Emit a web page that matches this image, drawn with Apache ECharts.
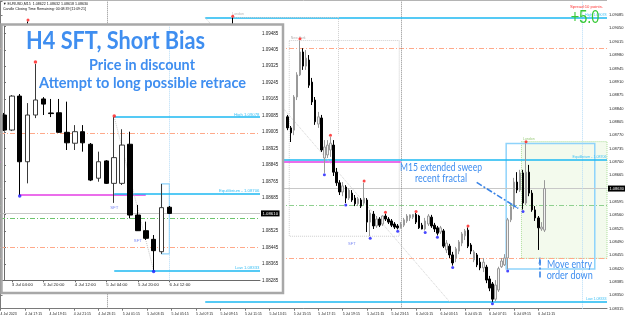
<!DOCTYPE html>
<html><head><meta charset="utf-8">
<script src="https://cdn.jsdelivr.net/npm/echarts@6/dist/echarts.min.js"></script>
<style>html,body{margin:0;padding:0;background:#fff;overflow:hidden}#c{width:625px;height:319px}</style>
</head><body><div id="c"></div>
<script>
// ================= DATA =================
// M15 chart (EURUSD,M15). Index = M15 bar number counted from 4 Jul 2023 15:15
const m15TickLabels = ['4 Jul 2023','4 Jul 17:15','4 Jul 19:15','4 Jul 21:15','4 Jul 23:15','5 Jul 01:15','5 Jul 03:15','5 Jul 05:15','5 Jul 07:15','5 Jul 09:15','5 Jul 11:15','5 Jul 13:15','5 Jul 15:15','5 Jul 17:15','5 Jul 19:15','5 Jul 21:15','5 Jul 23:15','6 Jul 01:15','6 Jul 03:15','6 Jul 05:15','6 Jul 07:15','6 Jul 09:15','6 Jul 11:15'];
const m15BarCount = 199;
const m15Index = [9,76,94,95,96,97,98,99,100,101,102,103,104,105,106,107,108,109,110,111,112,113,114,115,116,117,118,119,120,121,122,123,124,125,126,127,128,129,130,131,132,133,134,135,136,137,138,139,140,141,142,143,144,145,146,147,148,149,150,151,152,153,154,155,156,157,158,159,160,161,162,163,164,165,166,167,168,169,170,171,172,173,174,175,176,177,178];
const m15Open = [1.09030,1.09040,1.08818,1.08789,1.08783,1.08870,1.08928,1.08988,1.08951,1.08967,1.08909,1.08862,1.08799,1.08815,1.08710,1.08718,1.08731,1.08744,1.08673,1.08645,1.08621,1.08634,1.08605,1.08618,1.08605,1.08590,1.08600,1.08592,1.08600,1.08542,1.08563,1.08532,1.08550,1.08537,1.08558,1.08550,1.08545,1.08537,1.08532,1.08527,1.08534,1.08545,1.08553,1.08555,1.08562,1.08558,1.08534,1.08524,1.08537,1.08555,1.08534,1.08527,1.08516,1.08519,1.08469,1.08479,1.08456,1.08448,1.08466,1.08487,1.08506,1.08521,1.08482,1.08443,1.08456,1.08437,1.08422,1.08424,1.08393,1.08380,1.08340,1.08364,1.08425,1.08430,1.08448,1.08548,1.08582,1.08647,1.08626,1.08671,1.08592,1.08673,1.08618,1.08574,1.08553,1.08524,1.08521];
const m15High = [1.09068,1.09078,1.08823,1.08794,1.08875,1.08935,1.09018,1.08998,1.08993,1.08980,1.08920,1.08870,1.08831,1.08823,1.08757,1.08757,1.08765,1.08757,1.08684,1.08652,1.08647,1.08639,1.08631,1.08626,1.08613,1.08608,1.08605,1.08645,1.08605,1.08574,1.08571,1.08558,1.08555,1.08560,1.08564,1.08555,1.08550,1.08542,1.08537,1.08542,1.08553,1.08563,1.08562,1.08563,1.08566,1.08561,1.08540,1.08553,1.08563,1.08561,1.08540,1.08532,1.08532,1.08524,1.08495,1.08485,1.08464,1.08477,1.08495,1.08516,1.08524,1.08528,1.08487,1.08469,1.08461,1.08448,1.08448,1.08430,1.08401,1.08385,1.08390,1.08425,1.08448,1.08458,1.08553,1.08592,1.08658,1.08673,1.08679,1.08679,1.08748,1.08692,1.08626,1.08584,1.08558,1.08542,1.08652];
const m15Low = [1.08990,1.09000,1.08783,1.08752,1.08770,1.08862,1.08925,1.08941,1.08941,1.08894,1.08849,1.08797,1.08789,1.08726,1.08671,1.08710,1.08713,1.08663,1.08637,1.08613,1.08610,1.08592,1.08600,1.08595,1.08584,1.08584,1.08579,1.08587,1.08516,1.08505,1.08524,1.08527,1.08529,1.08532,1.08545,1.08537,1.08529,1.08524,1.08523,1.08525,1.08529,1.08540,1.08545,1.08550,1.08537,1.08524,1.08523,1.08520,1.08532,1.08527,1.08516,1.08507,1.08511,1.08474,1.08461,1.08448,1.08428,1.08437,1.08458,1.08479,1.08495,1.08474,1.08458,1.08437,1.08424,1.08416,1.08411,1.08382,1.08361,1.08333,1.08335,1.08359,1.08422,1.08427,1.08419,1.08542,1.08576,1.08618,1.08621,1.08575,1.08587,1.08610,1.08569,1.08545,1.08469,1.08519,1.08516];
const m15Close = [1.09000,1.09020,1.08789,1.08776,1.08870,1.08928,1.08988,1.08951,1.08972,1.08901,1.08857,1.08805,1.08818,1.08731,1.08739,1.08744,1.08749,1.08673,1.08645,1.08621,1.08637,1.08605,1.08626,1.08600,1.08590,1.08603,1.08584,1.08605,1.08542,1.08566,1.08532,1.08550,1.08534,1.08558,1.08550,1.08542,1.08534,1.08529,1.08527,1.08537,1.08548,1.08558,1.08561,1.08562,1.08542,1.08527,1.08524,1.08545,1.08558,1.08532,1.08524,1.08513,1.08527,1.08479,1.08487,1.08456,1.08435,1.08472,1.08490,1.08511,1.08519,1.08479,1.08466,1.08464,1.08430,1.08422,1.08437,1.08390,1.08369,1.08340,1.08377,1.08420,1.08440,1.08448,1.08548,1.08582,1.08647,1.08626,1.08671,1.08592,1.08673,1.08618,1.08574,1.08553,1.08527,1.08529,1.08630];
const m15FractalHighIdx = [9,76,98,108,119,126,136,153,172];
const m15FractalHighVal = [1.09072,1.09082,1.09023,1.08770,1.08650,1.08568,1.08570,1.08532,1.08753];
const m15FractalLowIdx = [106,113,121,130,139,143,148,161,166,171];
const m15FractalLowVal = [1.08666,1.08587,1.08500,1.08518,1.08515,1.08502,1.08423,1.08328,1.08414,1.08570];
const m15SftIdx = [115];
const m15SftVal = [1.08485];

// H4 inset chart. Index = H4 bar number counted from 3 Jul 2023 00:00
const h4TickLabels = ['3 Jul 04:00','3 Jul 20:00','4 Jul 12:00','5 Jul 04:00','5 Jul 20:00','6 Jul 12:00'];
const h4BarCount = 33;
const h4Open  = [1.09088,1.09015,1.09180,1.08861,1.09088,1.09166,1.09098,1.09099,1.09004,1.08951,1.09007,1.08946,1.08781,1.08865,1.08756,1.08756,1.08946,1.08602,1.08526,1.08484,1.08424,1.08640];
const h4High  = [1.09098,1.09185,1.09190,1.09146,1.09336,1.09175,1.09166,1.09166,1.09153,1.09039,1.09039,1.08952,1.08910,1.08869,1.09078,1.09019,1.09007,1.08651,1.08570,1.08505,1.08753,1.08646];
const h4Low   = [1.09010,1.09010,1.08699,1.08756,1.09073,1.09088,1.09078,1.09001,1.08918,1.08918,1.08910,1.08767,1.08764,1.08753,1.08661,1.08748,1.08586,1.08525,1.08481,1.08333,1.08413,1.08607];
const h4Close = [1.09015,1.09180,1.08861,1.09088,1.09161,1.09141,1.09095,1.09004,1.08953,1.09007,1.08953,1.08772,1.08861,1.08756,1.08881,1.08942,1.08602,1.08526,1.08489,1.08429,1.08638,1.08610];
const h4FractalHighIdx = [4,14];
const h4FractalHighVal = [1.09345,1.09083];
const h4FractalLowIdx = [2,19];
const h4FractalLowVal = [1.08694,1.08328];
const h4SftIdx = [14,17];
const h4SftVal = [1.08638,1.08476];

// Levels (prices)
const rangeHigh = 1.09078, rangeLow = 1.08333, equilibrium = 1.08706;
const orangeLevels = [1.08998, 1.08447];
const greenLevel = 1.08585;
const magentaLevel = 1.08699;
const mainCurrent = 1.08630;
// time anchors (bar indices) for drawn objects
const m15LevelStart = 67, m15MagentaEnd = 131, m15DaySeparators = [35,131], m15FutureLine = 190.5;
const m15Zigzag = [[67, 1.09078],[147, 1.08333]];
const m15NYBox = [94.5, 130.5, 1.09018, 1.08505];
const m15LondonPrev = [75.5, 110.5, 1.09080, 1.08770];
const m15LondonBox = [165.5, 194.5, 1.08748, 1.08419];
const m15KillBox = [170.5, 198.5, 1.08753, 1.08447];
const m15Arrows = [[155.85, 1.08646, 169.46, 1.08578],[176.5, 1.08397, 176.5, 1.08450]];
const h4LevelStart = 14, h4MagentaRange = [2, 18], h4Zigzag = [[14, 1.09078],[19, 1.08333]], h4Vline = 21;
const h4RangeBox = [20, 21, 1.08753, 1.08413];

// ================= CHART =================
const mBase = 1.08315, iBase = 1.08285;
const mU = v => Math.round((v - mBase) * 1e6) / 10;
const iU = v => Math.round((v - iBase) * 1e6) / 10;
const SF = 'Liberation Sans, Arial, sans-serif';
const LB = '#1cb8f2', LBT = '#3cc0f5';
const mainCats = [];
for (let i = 0; i < m15BarCount; i++) mainCats.push(i % 8 === 0 && i / 8 < m15TickLabels.length ? m15TickLabels[i / 8] : '');
const insetCats = [];
for (let i = 0; i < h4BarCount; i++) insetCats.push(i % 4 === 1 && (i - 1) / 4 < h4TickLabels.length ? h4TickLabels[(i - 1) / 4] : '');
const h4Last = h4Close[h4Close.length - 1];

const dashDot = [5, 2, 1, 2];
const ls = (color, width, type) => ({color, width, type: type || 'solid', opacity: 1});
const noLbl = {show: false};

function levelLabel(text, fs) {
  return {show: true, formatter: text, position: 'insideEndTop', color: LBT, fontSize: fs, fontFamily: SF, distance: 0.5};
}

const mainMarkLines = [
  {yAxis: mU(orangeLevels[0]), lineStyle: ls('#ffa98a', 1, dashDot)},
  {yAxis: mU(orangeLevels[1]), lineStyle: ls('#ffa98a', 1, dashDot)},
  {yAxis: mU(greenLevel), lineStyle: ls('#8fd08f', 1, dashDot)},
  {yAxis: mU(mainCurrent), lineStyle: ls('#c8c8c8', 1),
    label: {show: true, position: 'end', formatter: mainCurrent.toFixed(5), backgroundColor: '#000', color: '#fff', fontSize: 4, fontFamily: SF, padding: [1, 1.5], distance: 1}},
  {xAxis: m15DaySeparators[0], lineStyle: ls('#8a8a8a', 1, 'dotted')},
  {xAxis: m15DaySeparators[1], lineStyle: ls('#8a8a8a', 1, 'dotted')},
  {xAxis: m15FutureLine, lineStyle: ls('#b5dcf7', 1, 'dotted')},
  [{coord: [-0.5, mU(magentaLevel)], lineStyle: ls('#e53de5', 1.5)}, {coord: [m15MagentaEnd, mU(magentaLevel)]}],
  [{coord: [m15LevelStart, mU(rangeHigh)], lineStyle: ls(LB, 1.5), label: levelLabel('High ' + rangeHigh.toFixed(5), 3.6)}, {coord: [m15BarCount - 0.5, mU(rangeHigh)]}],
  [{coord: [m15LevelStart, mU(equilibrium)], lineStyle: ls(LB, 1.5), label: levelLabel('Equilibrium - ' + equilibrium.toFixed(5), 3.6)}, {coord: [m15BarCount - 0.5, mU(equilibrium)]}],
  [{coord: [m15LevelStart, mU(rangeLow)], lineStyle: ls(LB, 1.5), label: levelLabel('Low ' + rangeLow.toFixed(5), 3.6)}, {coord: [m15BarCount - 0.5, mU(rangeLow)]}],
  [{coord: [m15Zigzag[0][0], mU(m15Zigzag[0][1])], lineStyle: ls('#d2d2d2', 1, 'dotted')}, {coord: [m15Zigzag[1][0], mU(m15Zigzag[1][1])]}],
  [{coord: [m15LondonPrev[0], mU(m15LondonPrev[2])], lineStyle: ls('#cfcfcf', 1, 'dotted'),
    label: {show: true, formatter: 'London', position: 'insideStartTop', color: '#b5b5b5', fontSize: 3.5, fontFamily: SF, distance: 1}},
   {coord: [m15LondonPrev[1], mU(m15LondonPrev[2])]}],
  [{coord: [m15LondonPrev[1], mU(m15LondonPrev[2])], lineStyle: ls('#cfcfcf', 1, 'dotted')}, {coord: [m15LondonPrev[1], mU(m15LondonPrev[3])]}]
];

const mainMarkAreas = [
  [{coord: [m15KillBox[0], mU(m15KillBox[2])], itemStyle: {color: '#f3faed', borderColor: '#a9dc96', borderWidth: 1, borderType: 'dotted'},
    label: {show: true, formatter: 'London', position: [2, -4.5], color: '#9ccc7c', fontSize: 3.5, fontFamily: SF}},
   {coord: [m15KillBox[1], mU(m15KillBox[3])]}],
  [{coord: [m15NYBox[0], mU(m15NYBox[2])], itemStyle: {color: 'rgba(0,0,0,0)', borderColor: '#cdcdcd', borderWidth: 1, borderType: 'dotted'},
    label: {show: true, formatter: 'New York', position: [2, -4.5], color: '#b5b5b5', fontSize: 3.5, fontFamily: SF}},
   {coord: [m15NYBox[1], mU(m15NYBox[3])]}],
  [{coord: [m15LondonBox[0], mU(m15LondonBox[2])], itemStyle: {color: 'rgba(0,0,0,0)', borderColor: '#8ed3fb', borderWidth: 1.5}, label: noLbl},
   {coord: [m15LondonBox[1], mU(m15LondonBox[3])]}]
];

const insetMarkLines = [
  {yAxis: iU(orangeLevels[0]), lineStyle: ls('#ffa98a', 1, dashDot)},
  {yAxis: iU(orangeLevels[1]), lineStyle: ls('#ffa98a', 1, dashDot)},
  {yAxis: iU(greenLevel), lineStyle: ls('#6cc46c', 1, dashDot)},
  {yAxis: iU(h4Last), lineStyle: ls('#c8c8c8', 1),
    label: {show: true, position: 'end', formatter: h4Last.toFixed(5), backgroundColor: '#000', color: '#fff', fontSize: 4.3, fontFamily: SF, padding: [1, 1.5], distance: 1}},
  {xAxis: h4Vline, lineStyle: ls('#b5dcf7', 1, 'dotted')},
  [{coord: [h4MagentaRange[0], iU(magentaLevel)], lineStyle: ls('#e53de5', 1.5)}, {coord: [h4MagentaRange[1], iU(magentaLevel)]}],
  [{coord: [h4LevelStart, iU(rangeHigh)], lineStyle: ls(LB, 1.5), label: levelLabel('High ' + rangeHigh.toFixed(5), 4.3)}, {coord: [h4BarCount - 0.5, iU(rangeHigh)]}],
  [{coord: [h4LevelStart, iU(equilibrium)], lineStyle: ls(LB, 1.5), label: levelLabel('Equilibrium - ' + equilibrium.toFixed(5), 4.3)}, {coord: [h4BarCount - 0.5, iU(equilibrium)]}],
  [{coord: [h4LevelStart, iU(rangeLow)], lineStyle: ls(LB, 1.5), label: levelLabel('Low ' + rangeLow.toFixed(5), 4.3)}, {coord: [h4BarCount - 0.5, iU(rangeLow)]}],
  [{coord: [h4Zigzag[0][0], iU(h4Zigzag[0][1])], lineStyle: ls('#c8c8c8', 1, 'dotted')}, {coord: [h4Zigzag[1][0], iU(h4Zigzag[1][1])]}]
];
const insetMarkAreas = [
  [{coord: [h4RangeBox[0], iU(h4RangeBox[2])], itemStyle: {color: 'rgba(0,0,0,0)', borderColor: '#8ed3fb', borderWidth: 1.2}, label: noLbl},
   {coord: [h4RangeBox[1], iU(h4RangeBox[3])]}]
];

// text fitting helper (for annotation text widths)
const mctx = document.createElement('canvas').getContext('2d');
function fitScale(text, weight, size, family, width) {
  mctx.font = weight + ' ' + size + 'px ' + family;
  const w = mctx.measureText(text).width;
  return w > 0 ? width / w : 1;
}
function txt(text, cx, cy, size, color, weight, family, width, z, align) {
  const s = width ? fitScale(text, weight, size, family, width) : 1;
  return {type: 'text', x: cx, y: cy, scaleX: s, z: z, silent: true,
    style: {text: text, fill: color, fontSize: size, fontWeight: weight, fontFamily: family,
      align: align || 'center', verticalAlign: 'middle', textAlign: align || 'center', textVerticalAlign: 'middle'}};
}
const ANN = '#3f8ef0';
const HF = 'Lato, "Open Sans", sans-serif';

const option = {
  animation: false,
  backgroundColor: '#ffffff',
  textStyle: {fontFamily: SF},
  grid: [
    {left: -1, right: 18, top: 0, bottom: 10.3, containLabel: false, outerBoundsMode: 'none'},
    {left: 0, right: 365, top: 26, bottom: 38.7, containLabel: false, outerBoundsMode: 'none', z: 20}
  ],
  xAxis: [
    {type: 'category', gridIndex: 0, data: mainCats, boundaryGap: true, offset: 2.3,
      axisLine: {lineStyle: {color: '#7a7a7a', width: 1}},
      axisTick: {show: true, length: 2, alignWithLabel: true, interval: (i) => mainCats[i] !== '', lineStyle: {color: '#7a7a7a'}},
      axisLabel: {interval: 0, align: 'left', fontSize: 3.5, margin: 1.5, color: '#222', fontFamily: SF, hideOverlap: false},
      splitLine: {show: false}},
    {type: 'value', gridIndex: 0, min: -0.5, max: m15BarCount - 0.5, show: false},
    {type: 'category', gridIndex: 1, data: insetCats, boundaryGap: true, offset: 0.7, z: 20,
      axisLine: {lineStyle: {color: '#6a6a6a', width: 1}},
      axisTick: {show: true, length: 2, alignWithLabel: true, interval: (i) => insetCats[i] !== '', lineStyle: {color: '#6a6a6a'}},
      axisLabel: {interval: 0, align: 'left', fontSize: 4.3, margin: 1.5, color: '#222', fontFamily: SF, hideOverlap: false},
      splitLine: {show: false}},
    {type: 'value', gridIndex: 1, min: -0.5, max: h4BarCount - 0.5, show: false}
  ],
  yAxis: [
    {type: 'value', gridIndex: 0, position: 'right', min: 0, max: 809.3, interval: 35, scale: false,
      axisLine: {show: true, lineStyle: {color: '#7a7a7a'}},
      axisTick: {show: true, length: 2, lineStyle: {color: '#7a7a7a'}},
      splitLine: {show: false},
      axisLabel: {fontSize: 4, margin: 2, color: '#222', fontFamily: SF, showMaxLabel: true, showMinLabel: true, hideOverlap: false,
        formatter: (v) => (v > 775 || Math.abs(v - mU(mainCurrent)) < 1) ? '' : (mBase + v / 1e5).toFixed(5)}},
    {type: 'value', gridIndex: 1, position: 'right', min: 0, max: 1235.5, interval: 80, z: 20,
      axisLine: {show: true, lineStyle: {color: '#6a6a6a'}},
      axisTick: {show: true, length: 2, lineStyle: {color: '#6a6a6a'}},
      splitLine: {show: false},
      axisLabel: {fontSize: 4.5, margin: 2, color: '#222', fontFamily: SF, hideOverlap: false,
        formatter: (v) => (v > 1205 || Math.abs(v - iU(h4Last)) < 40) ? '' : (iBase + v / 1e5).toFixed(5)}}
  ],
  series: [
    // ---- main M15 chart ----
    {type: 'line', name: 'm15-levels', xAxisIndex: 1, yAxisIndex: 0, data: [], z: 1, silent: true, clip: false,
      markArea: {silent: true, z: 1, data: mainMarkAreas},
      markLine: {silent: true, z: 2, symbol: 'none', label: {show: false}, emphasis: {disabled: true}, data: mainMarkLines}},
    {type: 'candlestick', name: 'EURUSD,M15', xAxisIndex: 1, yAxisIndex: 0, z: 3, silent: true, barWidth: 2,
      data: m15Index.map((x, k) => [x, mU(m15Open[k]), mU(m15Close[k]), mU(m15Low[k]), mU(m15High[k])]),
      itemStyle: {color: '#f2f2f2', color0: '#000000', borderColor: '#9a9a9a', borderColor0: '#000000', borderWidth: 1}},
    {type: 'scatter', name: 'fractal-up', xAxisIndex: 1, yAxisIndex: 0, z: 4, silent: true, symbol: 'circle', symbolSize: 3,
      data: m15FractalHighIdx.map((x, k) => [x, mU(m15FractalHighVal[k])]), itemStyle: {color: '#ff1a1a'}},
    {type: 'scatter', name: 'fractal-down', xAxisIndex: 1, yAxisIndex: 0, z: 4, silent: true, symbol: 'circle', symbolSize: 3,
      data: m15FractalLowIdx.map((x, k) => [x, mU(m15FractalLowVal[k])]), itemStyle: {color: '#1a1aff'}},
    {type: 'scatter', name: 'sft', xAxisIndex: 1, yAxisIndex: 0, z: 4, silent: true, symbolSize: 1,
      itemStyle: {color: 'rgba(0,0,0,0)'},
      label: {show: true, position: 'inside', formatter: 'SFT', color: '#5a6cf0', fontSize: 4, fontFamily: SF},
      data: m15SftIdx.map((x, k) => [x, mU(m15SftVal[k])])},
    {type: 'line', name: 'arrows', xAxisIndex: 1, yAxisIndex: 0, data: [], z: 6, silent: true, clip: false,
      markLine: {silent: true, z: 6, symbol: ['none', 'arrow'], symbolSize: [2, 7], label: {show: false},
        lineStyle: {color: '#3a84e6', width: 1.6, type: [6, 2, 2, 2]},
        data: m15Arrows.map(a => [{coord: [a[0], mU(a[1])]}, {coord: [a[2], mU(a[3])]}])}},
    // ---- inset H4 chart ----
    {type: 'line', name: 'h4-levels', xAxisIndex: 3, yAxisIndex: 1, data: [], z: 21, silent: true, clip: false,
      markArea: {silent: true, z: 21, data: insetMarkAreas},
      markLine: {silent: true, z: 21, symbol: 'none', label: {show: false}, data: insetMarkLines}},
    {type: 'candlestick', name: 'EURUSD,H4', xAxisIndex: 3, yAxisIndex: 1, z: 22, silent: true, barWidth: 5,
      data: h4Open.map((o, i) => [i, iU(o), iU(h4Close[i]), iU(h4Low[i]), iU(h4High[i])]),
      itemStyle: {color: '#ffffff', color0: '#000000', borderColor: '#3a3a3a', borderColor0: '#000000', borderWidth: 1}},
    {type: 'scatter', xAxisIndex: 3, yAxisIndex: 1, z: 23, silent: true, symbolSize: 3.5,
      data: h4FractalHighIdx.map((x, k) => [x, iU(h4FractalHighVal[k])]), itemStyle: {color: '#ff1a1a'}},
    {type: 'scatter', xAxisIndex: 3, yAxisIndex: 1, z: 23, silent: true, symbolSize: 3.5,
      data: h4FractalLowIdx.map((x, k) => [x, iU(h4FractalLowVal[k])]), itemStyle: {color: '#1a1aff'}},
    {type: 'scatter', xAxisIndex: 3, yAxisIndex: 1, z: 23, silent: true, symbolSize: 1,
      itemStyle: {color: 'rgba(0,0,0,0)'},
      label: {show: true, position: 'inside', formatter: 'SFT', color: '#5a6cf0', fontSize: 4.3, fontFamily: SF},
      data: h4SftIdx.map((x, k) => [x, iU(h4SftVal[k])])}
  ],
  graphic: {elements: [
    {type: 'line', z: 5, silent: true, shape: {x1: 0, y1: 0.5, x2: 607, y2: 0.5}, style: {stroke: '#b4b4b4', lineWidth: 1}},
    txt('\u25BC EURUSD,M15  1.08622 1.08632 1.08618 1.08630', 3, 4, 3.8, '#111', 'normal', SF, 85, 5, 'left'),
    txt('Candle Closing Time Remaining: 00:08:39 [11:09:21]', 3, 9.2, 3.6, '#111', 'normal', SF, 83, 5, 'left'),
    txt('Spread:10 points.', 603, 7.2, 4, '#ff3333', 'normal', SF, 33, 5, 'right'),
    txt('+5.0', 585, 18.5, 18, '#36c936', 'normal', SF, 28.7, 7),
    txt('M15 extended sweep', 441, 167.2, 11, ANN, 'normal', HF, 82, 7),
    txt('recent fractal', 441, 178.3, 11, ANN, 'normal', HF, 52, 7),
    txt('Move entry', 569.5, 264.5, 11, ANN, 'normal', HF, 45, 7),
    txt('order down', 569.7, 275.7, 11, ANN, 'normal', HF, 46, 7),
    // inset panel
    {type: 'rect', z: 10, silent: true, shape: {x: 1.5, y: 24.5, width: 281.5, height: 268.5}, style: {fill: '#ffffff'}},
    {type: 'rect', z: 40, silent: true, shape: {x: 1.5, y: 24.5, width: 281.5, height: 268.5}, style: {fill: 'none', stroke: '#a8a8a8', lineWidth: 2.5}},
    txt('H4 SFT, Short Bias', 115.5, 41.5, 24, ANN, 'bold', HF, 179, 41),
    txt('Price in discount', 142, 64.5, 16, ANN, 'bold', HF, 106, 41),
    txt('Attempt to long possible retrace', 142.5, 82.5, 16, ANN, 'bold', HF, 207, 41)
  ]}
};

const chart = echarts.init(document.getElementById('c'), null, {renderer: 'canvas', width: 625, height: 319});
chart.setOption(option);
</script>
</body></html>
